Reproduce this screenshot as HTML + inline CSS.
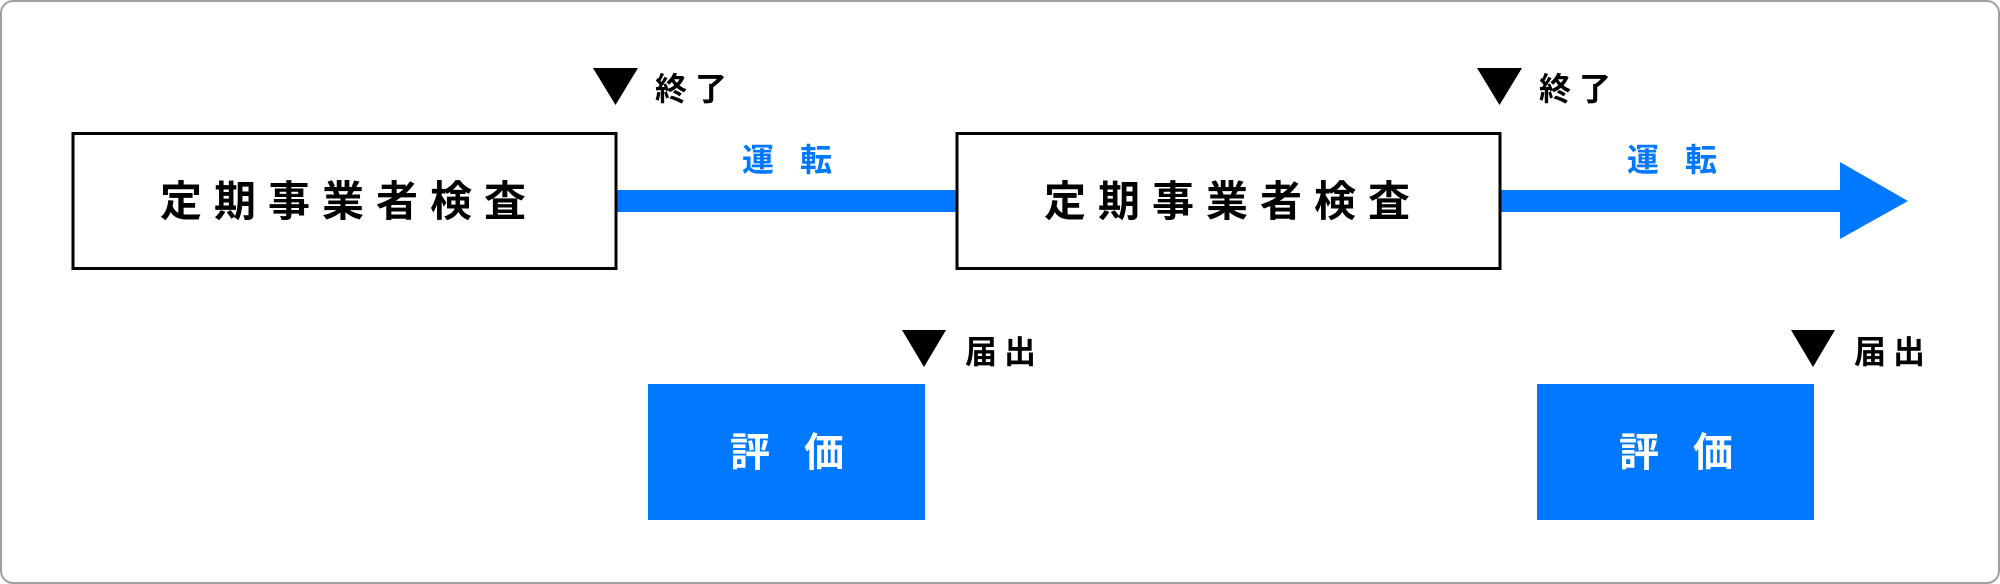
<!DOCTYPE html>
<html><head><meta charset="utf-8"><style>
html,body{margin:0;padding:0;background:#fff;}
svg{display:block;}
text{font-family:"Liberation Sans","Noto Sans CJK JP",sans-serif;font-weight:bold;}
</style></head><body>
<svg width="2000" height="584" viewBox="0 0 2000 584" xmlns="http://www.w3.org/2000/svg">
<rect x="1" y="1" width="1998" height="582" rx="12" fill="#fff" stroke="#a0a0a0" stroke-width="2"/>
<rect x="616" y="190" width="340" height="22" fill="#0078ff"/>
<rect x="1500" y="190" width="342" height="22" fill="#0078ff"/>
<polygon points="1840,162 1908,201 1840,239" fill="#0078ff"/>
<rect x="73" y="133.5" width="543" height="135" fill="#fff" stroke="#000" stroke-width="3"/>
<rect x="957" y="133.5" width="543" height="135" fill="#fff" stroke="#000" stroke-width="3"/>
<text x="160" y="216" font-size="42" letter-spacing="12" fill="#000">定期事業者検査</text>
<text x="1044" y="216" font-size="42" letter-spacing="12" fill="#000">定期事業者検査</text>
<text x="742" y="171" font-size="32" letter-spacing="26" fill="#0078ff">運転</text>
<text x="1627" y="171" font-size="32" letter-spacing="26" fill="#0078ff">運転</text>
<polygon points="593,68 638,68 615.5,105" fill="#000"/>
<text x="655" y="100" font-size="32" letter-spacing="8" fill="#000">終了</text>
<polygon points="1477,68 1522,68 1499.5,105" fill="#000"/>
<text x="1539" y="100" font-size="32" letter-spacing="8" fill="#000">終了</text>
<rect x="648" y="384" width="277" height="136" fill="#0078ff"/>
<rect x="1537" y="384" width="277" height="136" fill="#0078ff"/>
<text x="730" y="466" font-size="40" letter-spacing="34" fill="#fff">評価</text>
<text x="1619" y="466" font-size="40" letter-spacing="34" fill="#fff">評価</text>
<polygon points="902,330 946,330 924,367" fill="#000"/>
<text x="965" y="363" font-size="32" letter-spacing="7" fill="#000">届出</text>
<polygon points="1791,330 1835,330 1813,367" fill="#000"/>
<text x="1854" y="363" font-size="32" letter-spacing="7" fill="#000">届出</text>
</svg>
</body></html>
